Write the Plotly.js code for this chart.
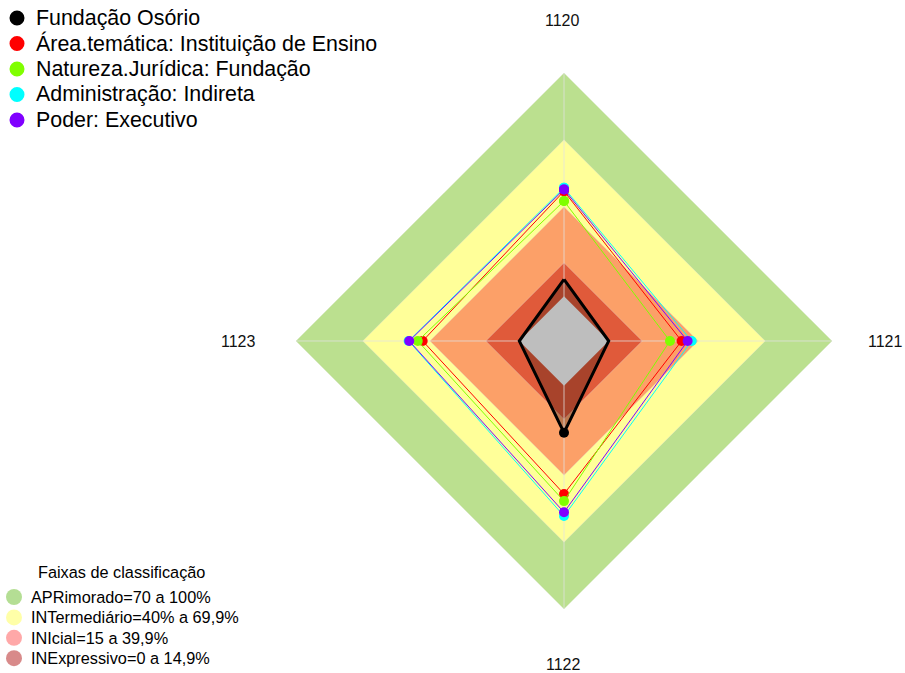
<!DOCTYPE html>
<html><head><meta charset="utf-8">
<script src="https://cdn.plot.ly/plotly-3.0.1.min.js"></script>
<style>html,body{margin:0;padding:0;background:#fff}#chart{width:905px;height:673px}</style>
</head><body><div id="chart"></div>
<script>
// ---- data ----
const categories = ['1120', '1121', '1122', '1123'];
const seriesNames = ['Fundação Osório', 'Área.temática: Instituição de Ensino', 'Natureza.Jurídica: Fundação', 'Administração: Indireta', 'Poder: Executivo'];
const fundacaoOsorio = [7.6, 0, 21, 0];
const areaTematica = [47, 32.6, 48.4, 43.2];
const naturezaJuridica = [42.6, 27.4, 51.6, 45.4];
const administracao = [48.5, 37.1, 58.3, 49.5];
const poderExecutivo = [47.8, 35.3, 56.6, 49.2];
const bandNames = ['APRimorado=70 a 100%', 'INTermediário=40% a 69,9%', 'INIcial=15 a 39,9%', 'INExpressivo=0 a 14,9%'];
const bandUpper = [100, 70, 40, 15];
const centerValue = 0;
const legend2Title = 'Faixas de classificação';

// ---- styles ----
const radialMin = -20, radialMax = 100;
const seriesColors = ['#000000', '#FF0000', '#80FF00', '#00FFFF', '#8000FF'];
const seriesWidths = [3, 1, 1, 1, 1];
const bandFill = ['#BBE08F', '#FFFF99', '#FCA068', '#E05A3A'];
const bandLegend = ['rgba(140,205,90,0.65)', 'rgba(255,255,110,0.6)', 'rgba(255,110,110,0.6)', 'rgba(190,60,60,0.6)'];
const FONT = 'Liberation Sans, Arial, sans-serif';

const allSeries = [fundacaoOsorio, areaTematica, naturezaJuridica, administracao, poderExecutivo];
const closeR = a => a.concat([a[0]]);
const closeT = categories.concat([categories[0]]);
const ring = v => closeR(categories.map(() => v));

const traces = [];
bandUpper.forEach((v, i) => {
  traces.push({type: 'scatterpolar', mode: 'lines', r: ring(v), theta: closeT,
    fill: 'toself', fillcolor: bandFill[i], line: {width: 0.6, color: 'rgba(225,225,225,0.6)'},
    showlegend: false, hoverinfo: 'skip'});
});
traces.push({type: 'scatterpolar', mode: 'lines', r: closeR(fundacaoOsorio), theta: closeT,
  fill: 'toself', fillcolor: 'rgba(0,0,0,0.25)', line: {width: 0}, showlegend: false, hoverinfo: 'skip'});
const spokeR = [], spokeT = [];
categories.forEach(c => { spokeR.push(radialMin, radialMax, null); spokeT.push(c, c, null); });
traces.push({type: 'scatterpolar', mode: 'lines', r: spokeR, theta: spokeT,
  line: {width: 1, color: 'rgba(225,225,225,0.75)'}, showlegend: false, hoverinfo: 'skip', connectgaps: false});
traces.push({type: 'scatterpolar', mode: 'lines', r: ring(centerValue), theta: closeT,
  fill: 'toself', fillcolor: '#BEBEBE', line: {width: 0}, showlegend: false, hoverinfo: 'skip'});
allSeries.forEach((s, i) => {
  traces.push({type: 'scatterpolar', mode: 'lines+markers', r: closeR(s), theta: closeT,
    line: {width: seriesWidths[i], color: seriesColors[i]},
    marker: {size: 10, color: seriesColors[i]}, name: seriesNames[i], showlegend: false});
});

const W = 905, H = 673, cx = 564, cy = 341, R = 268.3;
const px = v => v / W, py = v => 1 - v / H;
const annotations = [
  {x: px(562.5), y: py(20), text: categories[0]},
  {x: px(885), y: py(341.5), text: categories[1]},
  {x: px(563), y: py(664), text: categories[2]},
  {x: px(238), y: py(341.5), text: categories[3]}
].map(a => Object.assign(a, {xref: 'paper', yref: 'paper', showarrow: false, xanchor: 'center', yanchor: 'middle',
  font: {family: FONT, size: 16, color: '#111'}}));

const shapes = [];
const addItem = (label, color, cxp, cyp, rad, tx, size) => {
  annotations.push({xref: 'paper', yref: 'paper', x: px(tx), y: py(cyp), text: label, showarrow: false,
    xanchor: 'left', yanchor: 'middle', font: {family: FONT, size: size, color: '#000'}});
  shapes.push({type: 'circle', xref: 'paper', yref: 'paper', x0: px(cxp - rad), x1: px(cxp + rad),
    y0: py(cyp + rad), y1: py(cyp - rad), fillcolor: color, line: {width: 0}});
};
// series legend (top-left)
seriesNames.forEach((n, i) => addItem(n, seriesColors[i], 17, 18 + i * 25.5, 7.5, 34, 21.4));
// classification legend (bottom-left)
annotations.push({xref: 'paper', yref: 'paper', x: px(121.5), y: py(571.5), text: legend2Title, showarrow: false,
  xanchor: 'center', yanchor: 'middle', font: {family: FONT, size: 16.3, color: '#000'}});
bandNames.forEach((n, i) => addItem(n, bandLegend[i], 14, 597 + i * 20.4, 8, 28.5, 16.3));

const layout = {
  width: W, height: H, margin: {l: 0, r: 0, t: 0, b: 0, autoexpand: false},
  paper_bgcolor: '#fff', plot_bgcolor: '#fff',
  font: {family: FONT, color: '#000'},
  polar: {
    domain: {x: [(cx - R) / W, (cx + R) / W], y: [(H - cy - R) / H, (H - cy + R) / H]},
    bgcolor: 'rgba(0,0,0,0)', gridshape: 'linear',
    radialaxis: {visible: false, range: [radialMin, radialMax]},
    angularaxis: {type: 'category', categoryorder: 'array', categoryarray: categories, rotation: 90, direction: 'clockwise',
      showgrid: false, showline: false, showticklabels: false, ticks: ''}
  },
  annotations: annotations,
  shapes: shapes,
  showlegend: false
};
Plotly.newPlot('chart', traces, layout, {displayModeBar: false, staticPlot: true});
</script></body></html>
